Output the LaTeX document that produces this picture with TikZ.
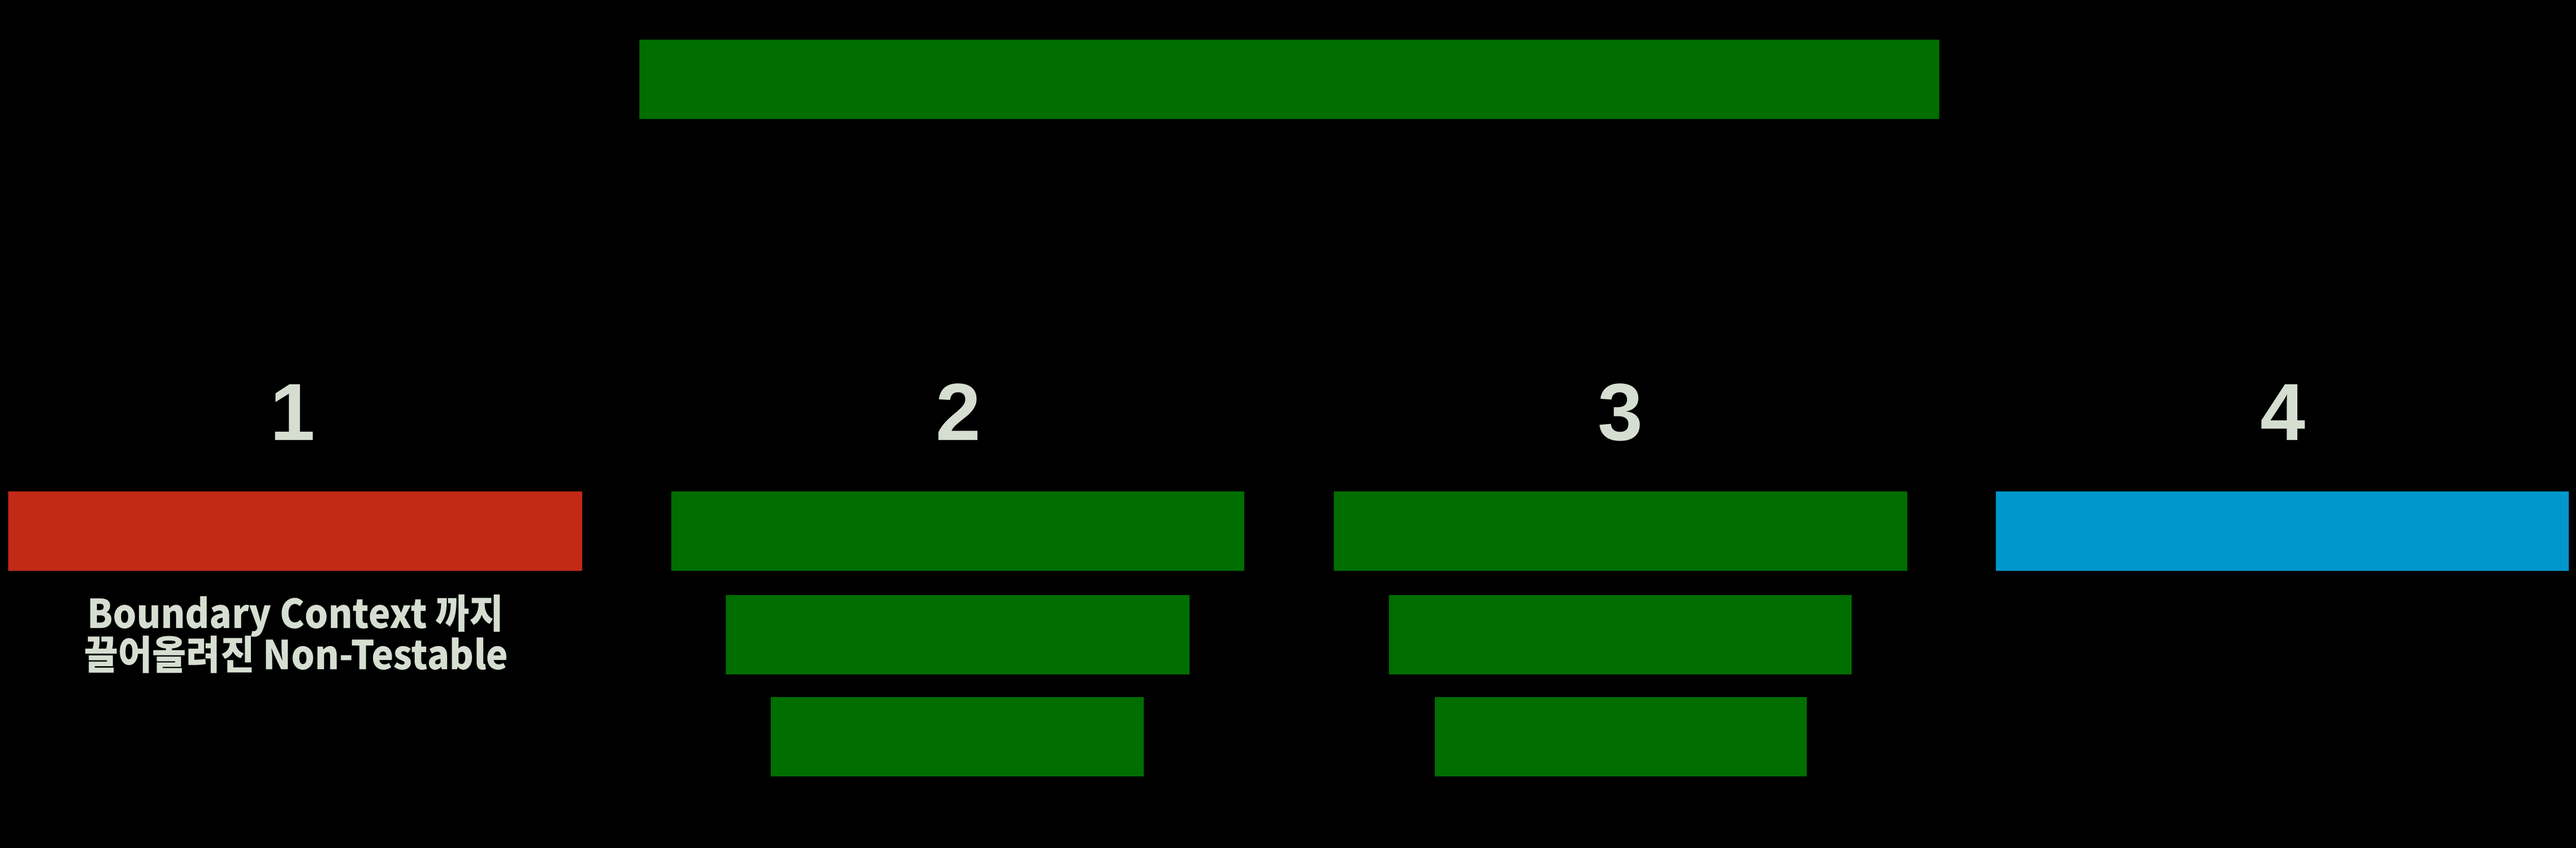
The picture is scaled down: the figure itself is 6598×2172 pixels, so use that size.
\documentclass[tikz,border=0pt]{standalone}
\usepackage{fontspec}
\usepackage{graphicx}
\setmainfont{Liberation Sans}
\newfontfamily\krfont{Noto Sans CJK KR}
\definecolor{bargreen}{RGB}{0,110,0}
\definecolor{barred}{RGB}{194,42,22}
\definecolor{barblue}{RGB}{0,150,204}
\definecolor{labeltext}{RGB}{213,222,208}
\newcommand{\narrowtxt}[1]{\scalebox{0.93}[1]{#1}}
\begin{document}
\begin{tikzpicture}[x=0.01cm,y=-0.01cm,
  bar/.style={inner sep=0pt, outer sep=0pt, minimum height=2.03cm},
  num/.style={text=labeltext, font=\fontsize{59}{60}\selectfont\bfseries, inner sep=0pt, anchor=base},
  note/.style={text=labeltext, font=\krfont\bfseries\fontsize{29}{30}\selectfont, inner sep=0pt, anchor=base}]
\fill[black] (0,0) rectangle (6598,2172);
\useasboundingbox (0,0) rectangle (6598,2172);
% top bar
\node[bar, fill=bargreen, minimum width=33.28cm] (top) at (3302,203) {};
% column 1
\node[num] (n1) at (750,1128) {1};
\node[bar, fill=barred, minimum width=14.69cm] (r1) at (756.5,1361) {};
\node[note] (t1a) at (757,1609) {\narrowtxt{Boundary Context 까지}};
\node[note] (t1b) at (759,1715) {\narrowtxt{끌어올려진 Non-Testable}};
% column 2
\node[num] (n2) at (2455,1128) {2};
\node[bar, fill=bargreen, minimum width=14.67cm] (g2a) at (2453.5,1361) {};
\node[bar, fill=bargreen, minimum width=11.86cm] (g2b) at (2453,1625.5) {};
\node[bar, fill=bargreen, minimum width=9.54cm] (g2c) at (2452,1886.5) {};
% column 3
\node[num] (n3) at (4150,1128) {3};
\node[bar, fill=bargreen, minimum width=14.68cm] (g3a) at (4151,1361) {};
\node[bar, fill=bargreen, minimum width=11.84cm] (g3b) at (4150,1625.5) {};
\node[bar, fill=bargreen, minimum width=9.52cm] (g3c) at (4151,1886.5) {};
% column 4
\node[num] (n4) at (5847,1128) {4};
\node[bar, fill=barblue, minimum width=14.67cm] (b4) at (5845.5,1361) {};
\end{tikzpicture}
\end{document}
